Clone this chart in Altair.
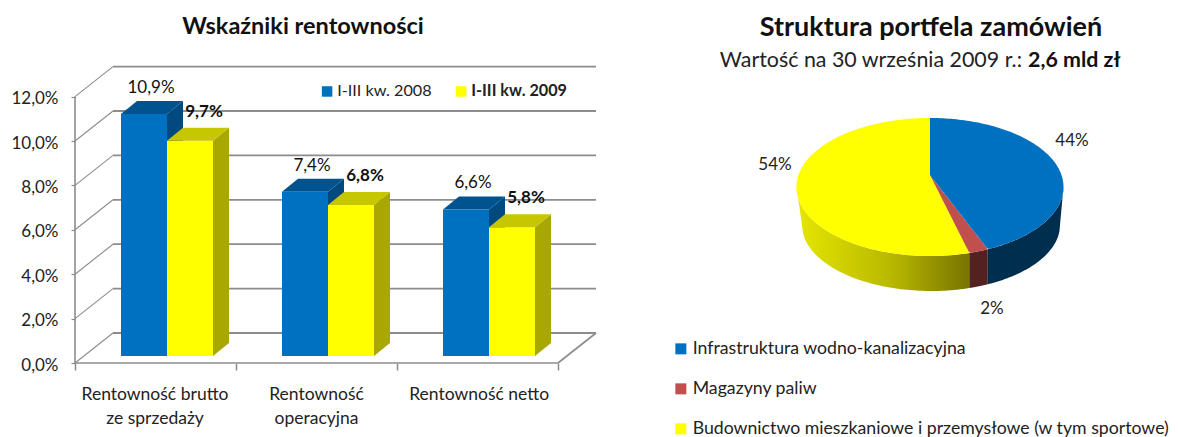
import numpy as np
import pandas as pd
import altair as alt

categories = ["Rentowność brutto\nze sprzedaży", "Rentowność\noperacyjna", "Rentowność netto"]
series_names = ["I-III kw. 2008", "I-III kw. 2009"]
values_2008 = [10.9, 7.4, 6.6]
values_2009 = [9.7, 6.8, 5.8]
y_ticks = [0, 2, 4, 6, 8, 10, 12]
pie_names = ["Infrastruktura wodno-kanalizacyjna", "Magazyny paliw",
             "Budownictwo mieszkaniowe i przemysłowe (w tym sportowe)"]
pie_shares = [44, 2, 54]

FONT = "Lato"
BLUE, BLUE_TOP, BLUE_SIDE = "#0070C0", "#00538F", "#004A80"
YEL, YEL_TOP, YEL_SIDE = "#FFFF00", "#C7C700", "#A8A800"
RED = "#C0504D"
GRID = "#8C8C8C"

# ---------- left panel: 3D-look bars -------------
PX_PER_PCT = 22.2
PX_PER_CAT = 161
LEFT_W = 580
x_scale = alt.Scale(domain=[0, LEFT_W / PX_PER_CAT], nice=False, zero=False)
y_scale = alt.Scale(domain=[0, 355 / PX_PER_PCT], nice=False, zero=False)
x_axis = alt.Axis(values=[0, 1, 2, 3], labels=False, domain=False, grid=False, title=None,
                  tickSize=7, tickColor=GRID, tickWidth=1.5)
y_axis = alt.Axis(values=y_ticks, domain=False, grid=False, title=None, tickSize=4, tickColor=GRID,
                  tickWidth=1.2, labelFont=FONT, labelFontSize=17, labelColor="#222222", labelPadding=13,
                  labelOffset=2, minExtent=67, maxExtent=67,
                  labelExpr="replace(format(datum.value,'.1f'),'.',',')+'%'")
X = alt.X("x:Q", scale=x_scale, axis=x_axis)
Y = alt.Y("y:Q", scale=y_scale, axis=y_axis)
X2, Y2 = alt.X2("x2:Q"), alt.Y2("y2:Q")

WALL_DX, WALL_DY = 38 / PX_PER_CAT, 30 / PX_PER_PCT
RIGHT_END = 3.0
BAR_W = 46 / PX_PER_CAT
BAR_START = 46 / PX_PER_CAT
BAR_BASE = 7 / PX_PER_PCT
D_X, D_Y = 16 / PX_PER_CAT, 13 / PX_PER_PCT

back = pd.DataFrame([{"x": WALL_DX, "x2": RIGHT_END + WALL_DX, "y": v + WALL_DY, "y2": v + WALL_DY} for v in y_ticks])
walls = pd.DataFrame([{"x": 0, "x2": WALL_DX, "y": v, "y2": v + WALL_DY} for v in y_ticks])
floor = pd.DataFrame([
    {"x": 0, "x2": RIGHT_END, "y": 0, "y2": 0},
    {"x": RIGHT_END, "x2": RIGHT_END + WALL_DX, "y": 0, "y2": WALL_DY},
    {"x": 0, "x2": 0, "y": 0, "y2": 12},
])

def faces(vals, slot):
    side, top = [], []
    for i, v in enumerate(vals):
        x0 = i + BAR_START + slot * BAR_W
        x1 = x0 + BAR_W
        t = v + BAR_BASE
        side += [{"b": i, "x": x1, "y": t, "y2": BAR_BASE},
                 {"b": i, "x": x1 + D_X, "y": t + D_Y, "y2": BAR_BASE + D_Y}]
        top += [{"b": i, "x": x0, "y": t, "y2": t},
                {"b": i, "x": x0 + D_X, "y": t + D_Y, "y2": t},
                {"b": i, "x": x1, "y": t + D_Y, "y2": t},
                {"b": i, "x": x1 + D_X, "y": t + D_Y, "y2": t + D_Y}]
    return pd.DataFrame(side), pd.DataFrame(top)

def face_layer(df, color):
    return alt.Chart(df).mark_area(color=color, interpolate="linear").encode(x=X, y=Y, y2=Y2, detail="b:N")

s08, t08 = faces(values_2008, 0)
s09, t09 = faces(values_2009, 1)

bars = pd.DataFrame(
    [{"series": series_names[0], "x": i + BAR_START, "x2": i + BAR_START + BAR_W, "y": v + BAR_BASE, "y2": BAR_BASE}
     for i, v in enumerate(values_2008)] +
    [{"series": series_names[1], "x": i + BAR_START + BAR_W, "x2": i + BAR_START + 2 * BAR_W, "y": v + BAR_BASE, "y2": BAR_BASE}
     for i, v in enumerate(values_2009)])

bar_layer = alt.Chart(bars).mark_rect().encode(
    x=X, x2=X2, y=Y, y2=Y2,
    color=alt.Color("series:N", scale=alt.Scale(domain=series_names, range=[BLUE, YEL]),
                    legend=alt.Legend(orient="none", legendX=244, legendY=75, direction="horizontal", title=None,
                                      symbolType="square", symbolSize=110, symbolStrokeWidth=0, labelFont=FONT,
                                      labelFontSize=16.2, labelColor="#222222", columnPadding=21, labelOffset=2,
                                      labelFontWeight={"expr": "datum.label === 'I-III kw. 2009' ? 'bold' : 'normal'"})))

def fmt(v):
    return f"{v:.1f}".replace(".", ",") + "%"

def value_labels(vals, slot, bold, dx, dy):
    df = pd.DataFrame([{"x": i + BAR_START + (slot + 0.5) * BAR_W, "y": v + BAR_BASE, "t": fmt(v)} for i, v in enumerate(vals)])
    return alt.Chart(df).mark_text(font=FONT, fontSize=17, color="#111111", dy=dy, dx=dx,
                                   fontWeight="bold" if bold else "normal").encode(x=X, y=Y, text="t:N")

cat_df = pd.DataFrame({"x": [0.497, 1.5, 2.51], "y": [0, 0, 0]})
cat_df2 = cat_df.assign(t=[c.split("\n")[0] for c in categories])
cat_df3 = cat_df.assign(t=[c.split("\n")[1] if "\n" in c else "" for c in categories])
cat_a = alt.Chart(cat_df2).mark_text(font=FONT, fontSize=17.5, color="#222222", dy=32).encode(x=X, y=Y, text="t:N")
cat_b = alt.Chart(cat_df3).mark_text(font=FONT, fontSize=17.5, color="#222222", dy=56).encode(x=X, y=Y, text="t:N")

title_l = alt.Chart(pd.DataFrame({"x": [228 / PX_PER_CAT], "y": [336 / PX_PER_PCT], "t": ["Wskaźniki rentowności"]})).mark_text(
    font=FONT, fontSize=23.5, fontWeight="bold", color="#111111").encode(x=X, y=Y, text="t:N")

left = alt.layer(
    alt.Chart(walls).mark_rule(color=GRID, strokeWidth=1.1).encode(x=X, x2=X2, y=Y, y2=Y2),
    alt.Chart(back).mark_rule(color=GRID, strokeWidth=1.8).encode(x=X, x2=X2, y=Y, y2=Y2),
    alt.Chart(floor).mark_rule(color=GRID, strokeWidth=1.6).encode(x=X, x2=X2, y=Y, y2=Y2),
    face_layer(s08, BLUE_SIDE), face_layer(t08, BLUE_TOP),
    bar_layer,
    face_layer(s09, YEL_SIDE), face_layer(t09, YEL_TOP),
    value_labels(values_2008, 0, False, 7, -26), value_labels(values_2009, 1, True, 14, -29),
    cat_a, cat_b, title_l,
).properties(width=LEFT_W, height=355)

# ---------- right panel: tilted pie -------------
A, B = 133.5, 69.0
E = 12.0 / B
A2, B2, CX2, CY2 = 129.0, 66.0, 1.0, -38.0

def project(frac):
    t = 2 * np.pi * frac
    sx, cy = np.sin(t), np.cos(t)
    d = 1 + E * cy
    return A * sx * np.sqrt(1 - E * E) / d, B * (cy + E) / d

total = sum(pie_shares)
rim_b = project(pie_shares[0] / total)
rim_r = project((pie_shares[0] + pie_shares[1]) / total)
apex = (0.0, B * E)

def top_e(x):
    return B * np.sqrt(np.clip(1 - (x / A) ** 2, 0, 1))

def low_bottom(x):
    u = (x - CX2) / A2
    y = CY2 - B2 * np.sqrt(np.clip(1 - u ** 2, 0, 1))
    if x < CX2 - A2:
        return CY2 * (x + A) / (CX2 - A2 + A)
    if x > CX2 + A2:
        return CY2 * (A - x) / (A - CX2 - A2)
    return y

def line(rim, x):
    return apex[1] + (rim[1] - apex[1]) * (x - apex[0]) / (rim[0] - apex[0])

def arc_xs(x0, x1, n=80):
    t0, t1 = np.arcsin(np.clip(x0 / A, -1, 1)), np.arcsin(np.clip(x1 / A, -1, 1))
    return A * np.sin(np.linspace(t0, t1, n))

rows = []
for x in arc_xs(-A, 0):
    rows.append({"slice": pie_names[2], "x": x, "y": top_e(x), "y2": -top_e(x)})
for x in np.linspace(0.01, rim_r[0], 25):
    rows.append({"slice": pie_names[2], "x": x, "y": line(rim_r, x), "y2": -top_e(x)})
for x in np.linspace(0.0, rim_b[0], 40):
    lo = line(rim_r, x) if x < rim_r[0] else -top_e(x)
    rows.append({"slice": pie_names[1], "x": x, "y": line(rim_b, x), "y2": lo})
for x in arc_xs(0, A):
    lo = line(rim_b, x) if x < rim_b[0] else -top_e(x)
    rows.append({"slice": pie_names[0], "x": x, "y": top_e(x), "y2": lo})
top_df = pd.DataFrame(rows)

def side_df(x0, x1):
    return pd.DataFrame([{"x": x, "y": -top_e(x), "y2": low_bottom(x)} for x in arc_xs(x0, x1)])

pie_x_scale = alt.Scale(domain=[-270, 240], nice=False, zero=False)
pie_y_scale = alt.Scale(domain=[-241, 179], nice=False, zero=False)
PX = alt.X("x:Q", scale=pie_x_scale, axis=None)
PY = alt.Y("y:Q", scale=pie_y_scale, axis=None)

yellow_grad = alt.Gradient(gradient="linear", x1=0, x2=1, y1=0, y2=0,
                           stops=[alt.GradientStop(color="#E6E600", offset=0),
                                  alt.GradientStop(color="#B8B800", offset=0.55),
                                  alt.GradientStop(color="#787400", offset=1)])

side_y = alt.Chart(side_df(-A, rim_r[0])).mark_area(color=yellow_grad).encode(x=PX, y=PY, y2=Y2)
side_r = alt.Chart(side_df(rim_r[0], rim_b[0])).mark_area(color="#532120").encode(x=PX, y=PY, y2=Y2)
side_b = alt.Chart(side_df(rim_b[0], A)).mark_area(color="#002E4F").encode(x=PX, y=PY, y2=Y2)

top_layer = alt.Chart(top_df).mark_area().encode(
    x=PX, y=PY, y2=Y2,
    color=alt.Color("slice:N", scale=alt.Scale(domain=pie_names, range=[BLUE, RED, YEL]),
                    legend=alt.Legend(orient="none", legendX=12, legendY=332, title=None, symbolType="square",
                                      symbolSize=121, symbolStrokeWidth=0, labelFont=FONT, labelFontSize=17.7,
                                      labelColor="#222222", rowPadding=21, labelOffset=3, labelLimit=600, columns=1,
                                      padding=0)))

pie_text = pd.DataFrame({"t": [f"{v}%" for v in pie_shares], "x": [142, 62, -155], "y": [46, -122, 22]})
pie_lab = alt.Chart(pie_text).mark_text(font=FONT, fontSize=17, color="#222222").encode(x=PX, y=PY, text="t:N")

t1 = alt.Chart(pd.DataFrame({"x": [1], "y": [159], "t": ["Struktura portfela zamówień"]})).mark_text(
    font=FONT, fontSize=27, fontWeight="bold", color="#111111").encode(x=PX, y=PY, text="t:N")
t2 = alt.Chart(pd.DataFrame({"x": [92], "y": [126], "t": ["Wartość na 30 września 2009 r.:"]})).mark_text(
    font=FONT, fontSize=21.4, align="right", color="#222222").encode(x=PX, y=PY, text="t:N")
t3 = alt.Chart(pd.DataFrame({"x": [98], "y": [126], "t": ["2,6 mld zł"]})).mark_text(
    font=FONT, fontSize=21.4, fontWeight="bold", align="left", color="#111111").encode(x=PX, y=PY, text="t:N")

right = alt.layer(side_y, side_r, side_b, top_layer, pie_lab, t1, t2, t3).properties(width=510, height=420)

chart = alt.hconcat(left, right, spacing=5).resolve_scale(color="independent").properties(
    padding=0, background="white").configure_view(stroke=None)

chart.save("out.html", embed_options={"renderer": "svg", "actions": False})
